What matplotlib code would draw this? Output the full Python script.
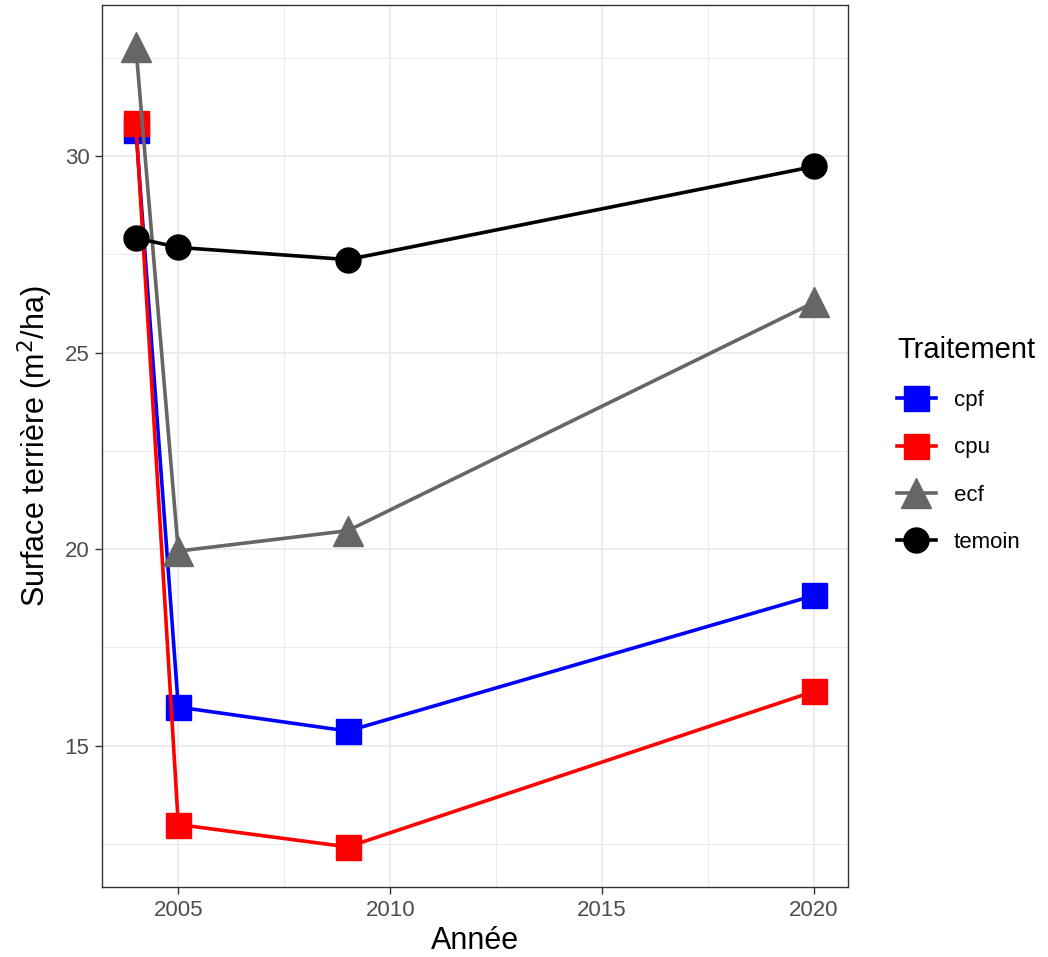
import matplotlib.pyplot as plt
import numpy as np
from matplotlib.ticker import MultipleLocator

plt.rcParams['font.family'] = ['Liberation Sans', 'DejaVu Sans']

annees = [2004, 2005, 2009, 2020]
cpf = [30.68, 15.98, 15.37, 18.82]
cpu = [30.85, 12.99, 12.42, 16.38]
ecf = [32.78, 19.95, 20.47, 26.28]
temoin = [27.92, 27.68, 27.37, 29.74]

series = [
    ('cpf', cpf, '#0000FF', 's', 18),
    ('cpu', cpu, '#FF0000', 's', 18),
    ('ecf', ecf, '#666666', '^', 21),
    ('temoin', temoin, '#000000', 'o', 18),
]

fig = plt.figure(figsize=(10.48, 9.57), dpi=100)
ax = fig.add_axes([102 / 1048, 1 - 887 / 957, 746 / 1048, 882 / 957])

for nom, vals, col, mk, ms in series:
    ax.plot(annees, vals, color=col, marker=mk, markersize=ms, linewidth=2.6,
            label=nom, zorder=3)

ax.set_xlim(2003.2, 2020.8)
ax.set_ylim(11.4, 33.85)
ax.xaxis.set_major_locator(MultipleLocator(5))
ax.xaxis.set_minor_locator(MultipleLocator(2.5))
ax.yaxis.set_major_locator(MultipleLocator(5))
ax.yaxis.set_minor_locator(MultipleLocator(2.5))

ax.grid(which='major', color='#EBEBEB', linewidth=1.3, zorder=0)
ax.grid(which='minor', color='#EBEBEB', linewidth=0.7, zorder=0)
ax.set_axisbelow(True)

for s in ax.spines.values():
    s.set_color('#333333')
    s.set_linewidth(1.0)

ax.tick_params(which='major', length=5, width=1, color='#333333',
               labelsize=16, labelcolor='#4D4D4D', pad=4)
ax.tick_params(which='minor', length=0)

ax.set_xlabel('Année', fontsize=22, labelpad=4)
ax.set_ylabel('Surface terrière (m$^2$/ha)', fontsize=22, labelpad=7)

leg = ax.legend(title='Traitement', loc='upper left',
                bbox_to_anchor=(888 / 1048, 1 - 327 / 957),
                bbox_transform=fig.transFigure, frameon=False,
                fontsize=16, title_fontsize=21, handlelength=1.75,
                labelspacing=1.18, handletextpad=0.8, borderaxespad=0)
leg._legend_box.align = 'left'

fig.savefig('out.png', dpi=100)
